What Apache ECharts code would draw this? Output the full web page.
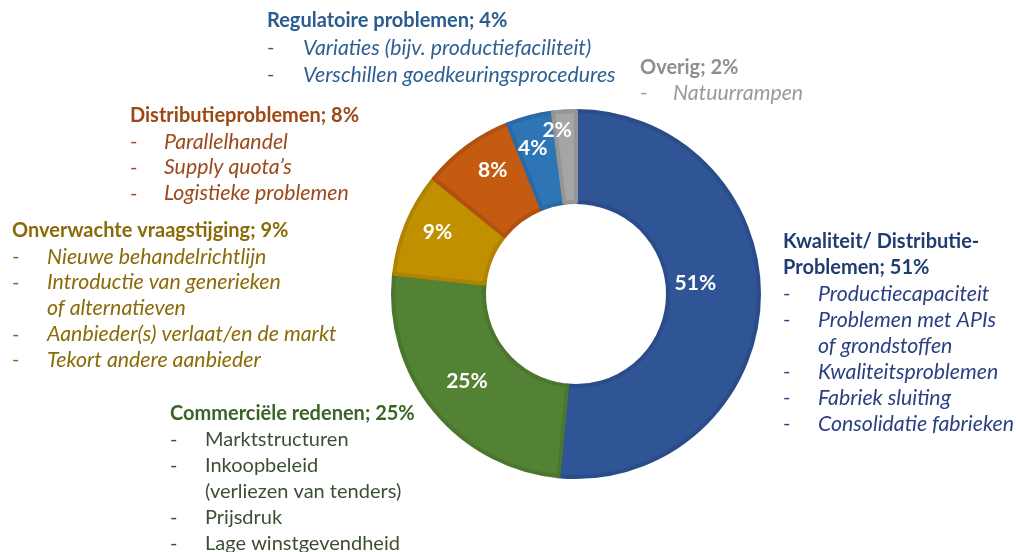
<!DOCTYPE html>
<html>
<head>
<meta charset="utf-8">
<script src="https://cdn.jsdelivr.net/npm/echarts@6/dist/echarts.min.js"></script>
<style>
  html, body { margin: 0; background: #fff; }
  #chart { width: 1016px; height: 552px; }
</style>
</head>
<body>
<div id="chart"></div>
<script>
const categories = ['Kwaliteit/ Distributie-Problemen', 'Commerciële redenen', 'Onverwachte vraagstijging', 'Distributieproblemen', 'Regulatoire problemen', 'Overig'];
const shares = [51, 25, 9, 8, 4, 2];

// heading lines per category, same order as categories
const headings = [
  ['Kwaliteit/ Distributie-', 'Problemen; 51%'],
  ['Commerciële redenen; 25%'],
  ['Onverwachte vraagstijging; 9%'],
  ['Distributieproblemen; 8%'],
  ['Regulatoire problemen; 4%'],
  ['Overig; 2%']
];

// bullets; a bullet with two entries wraps onto a second line
const bullets = [
  [['Productiecapaciteit'], ['Problemen met APIs', 'of grondstoffen'], ['Kwaliteitsproblemen'], ['Fabriek sluiting'], ['Consolidatie fabrieken']],
  [['Marktstructuren'], ['Inkoopbeleid', '(verliezen van tenders)'], ['Prijsdruk'], ['Lage winstgevendheid']],
  [['Nieuwe behandelrichtlijn'], ['Introductie van generieken', 'of alternatieven'], ['Aanbieder(s) verlaat/en de markt'], ['Tekort andere aanbieder']],
  [['Parallelhandel'], ['Supply quota’s'], ['Logistieke problemen']],
  [['Variaties (bijv. productiefaciliteit)'], ['Verschillen goedkeuringsprocedures']],
  [['Natuurrampen']]
];

const sliceColors = ['#2F5597', '#548235', '#C09000', '#C55A11', '#2E75B6', '#A5A5A5'];
const sliceBorders = ['#2A4D8A', '#4B7630', '#B08300', '#B25010', '#2A6AA6', '#959595'];
const headColors = ['#213C73', '#3A6426', '#8A6B08', '#9C4815', '#2B5C8F', '#8E8E8E'];
const textColors = ['#2B3F82', '#3C4F35', '#8A6B08', '#9C4A1C', '#2F5F93', '#9A9A9A'];
const italicText = [true, false, true, true, true, true];

// block placement (left, top, dash column width, line height)
const blocks = [
  {left: 783, top: 232, dash: 35, lh: 26},
  {left: 170, top: 404, dash: 35, lh: 26},
  {left: 12, top: 221, dash: 35, lh: 25.8},
  {left: 130, top: 106, dash: 34, lh: 25.7},
  {left: 267, top: 11, dash: 36, lh: 27},
  {left: 640, top: 58, dash: 33, lh: 25}
];
// nudges of the percentage labels inside the ring
const labelNudge = [[-21, -17], [0, -1], [-9, -7], [0, -11], [-8, -10], [-10, -24]];

const FONT = 'Lato';

function buildBlock(i) {
  const b = blocks[i];
  const lines = headings[i].map(h => '{h|' + h + '}');
  bullets[i].forEach(item => {
    item.forEach((txt, k) => {
      lines.push((k === 0 ? '{d|-}' : '{d| }') + '{t|' + txt + '}');
    });
  });
  const italic = italicText[i];
  return {
    type: 'text',
    left: b.left,
    top: b.top,
    silent: true,
    style: {
      text: lines.join('\n'),
      rich: {
        h: {fontFamily: FONT, fontSize: 20, fontWeight: 'bold', fill: headColors[i], lineHeight: b.lh},
        d: {fontFamily: FONT, fontSize: 20, fill: textColors[i], width: b.dash, lineHeight: b.lh},
        t: {fontFamily: FONT, fontSize: italic ? 21.3 : 20, fontStyle: italic ? 'italic' : 'normal', fill: textColors[i], lineHeight: b.lh}
      }
    }
  };
}

const chart = echarts.init(document.getElementById('chart'));

const option = {
  animation: false,
  backgroundColor: '#fff',
  graphic: categories.map((c, i) => buildBlock(i)),
  series: [{
    type: 'pie',
    center: [576, 294],
    radius: [92, 183],
    startAngle: 90,
    clockwise: true,
    avoidLabelOverlap: false,
    minShowLabelAngle: 0,
    labelLayout: {hideOverlap: false},
    emphasis: {disabled: true},
    label: {
      show: true,
      position: 'inside',
      formatter: '{c}%',
      color: '#fff',
      fontFamily: FONT,
      fontSize: 21,
      fontWeight: 'bold'
    },
    labelLine: {show: false},
    data: categories.map((name, i) => ({
      name: name,
      value: shares[i],
      label: {offset: labelNudge[i]},
      itemStyle: {color: sliceColors[i], borderColor: sliceBorders[i], borderWidth: 4}
    }))
  }]
};

chart.setOption(option);
</script>
</body>
</html>
